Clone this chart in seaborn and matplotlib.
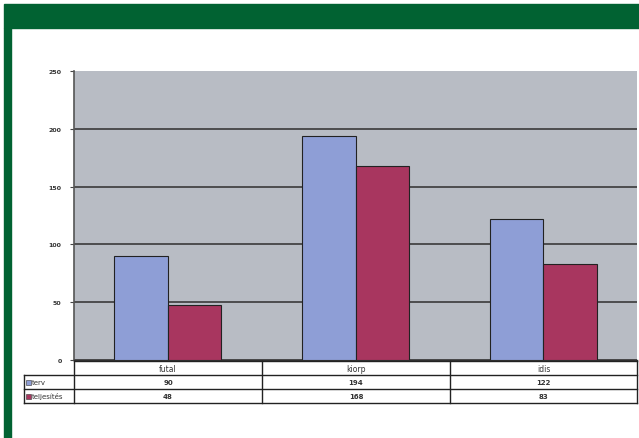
import matplotlib
matplotlib.use("Agg")
import matplotlib.pyplot as plt
import seaborn as sns
import pandas as pd
from matplotlib.patches import Rectangle
from matplotlib.lines import Line2D

categories = ["futal", "kiorp", "idis"]
series = ["terv", "teljesítés"]
terv = [90, 194, 122]
teljesites = [48, 168, 83]
yticks = [0, 50, 100, 150, 200, 250]

colors = ["#8e9ed6", "#a8365f"]

df = pd.DataFrame({
    "cat": categories * 2,
    "series": [series[0]] * 3 + [series[1]] * 3,
    "value": terv + teljesites,
})

W, H = 639, 439
fig = plt.figure(figsize=(W / 100, H / 100), dpi=100)
fig.patch.set_facecolor("white")

def fx(x):
    return x / W

def fy(y):
    return 1 - y / H

# green frame
fig.patches.append(Rectangle((fx(4), fy(29)), 1 - fx(4), fy(5) - fy(29),
                             transform=fig.transFigure, color="#016232", zorder=0))
fig.patches.append(Rectangle((fx(4), 0), fx(11) - fx(4), fy(29),
                             transform=fig.transFigure, color="#016232", zorder=0))

ax_l, ax_r, ax_t, ax_b = 74, 637, 72, 361
ax = fig.add_axes([fx(ax_l), fy(ax_b), fx(ax_r) - fx(ax_l), fy(ax_t) - fy(ax_b)])
ax.set_facecolor("#b8bcc4")

sns.barplot(data=df, x="cat", y="value", hue="series", order=categories,
            hue_order=series, palette=colors, saturation=1, width=0.57,
            edgecolor="#222222", linewidth=0.8, ax=ax, legend=False, zorder=3)

ax.set_ylim(0, 250)
ax.set_yticks(yticks)
ax.set_yticklabels([str(t) for t in yticks], fontsize=4.5, color="#333333",
                   fontweight="bold")
ax.yaxis.grid(True, color="#3a3a3a", linewidth=1.2, zorder=1)
ax.set_axisbelow(True)
ax.set_xticks([])
ax.set_xlabel("")
ax.set_ylabel("")
ax.tick_params(axis="y", length=3, width=0.8, color="#444444", pad=6)
for s in ["top", "right"]:
    ax.spines[s].set_visible(False)
ax.spines["left"].set_color("#555555")
ax.spines["left"].set_linewidth(1.2)
ax.spines["bottom"].set_color("#333333")
ax.spines["bottom"].set_linewidth(1.0)
gls = ax.yaxis.get_gridlines()
gls[-1].set_visible(False)

# data table
col_edges = [74, 262, 450, 637]
row_edges = [362, 376, 390, 404]
lab_left = 24

def hline(x0, x1, y, lw=1.0):
    fig.lines.append(Line2D([fx(x0), fx(x1)], [fy(y), fy(y)], transform=fig.transFigure,
                            color="#222222", linewidth=lw))

def vline(x, y0, y1, lw=1.0):
    fig.lines.append(Line2D([fx(x), fx(x)], [fy(y0), fy(y1)], transform=fig.transFigure,
                            color="#222222", linewidth=lw))

hline(col_edges[0], col_edges[-1], row_edges[0])
for y in row_edges[1:]:
    hline(lab_left, col_edges[-1], y)
for x in col_edges:
    vline(x, row_edges[0], row_edges[-1])
vline(lab_left, row_edges[1], row_edges[-1])

rows = [categories, [str(v) for v in terv], [str(v) for v in teljesites]]
for r, vals in enumerate(rows):
    yc = (row_edges[r] + row_edges[r + 1]) / 2
    for c, v in enumerate(vals):
        xc = (col_edges[c] + col_edges[c + 1]) / 2
        fig.text(fx(xc), fy(yc), v, ha="center", va="center",
                 fontsize=5 if r > 0 else 5.5,
                 color="#333333", fontweight="bold" if r > 0 else "normal")

for i, name in enumerate(series):
    yc = (row_edges[i + 1] + row_edges[i + 2]) / 2
    fig.patches.append(Rectangle((fx(lab_left + 2), fy(yc + 2.5)), fx(5), fy(0) - fy(5),
                                 transform=fig.transFigure, facecolor=colors[i],
                                 edgecolor="#333333", linewidth=0.4))
    fig.text(fx(lab_left + 8), fy(yc), name, ha="left", va="center", fontsize=5,
             color="#333333")

fig.savefig("out.png", dpi=100)
